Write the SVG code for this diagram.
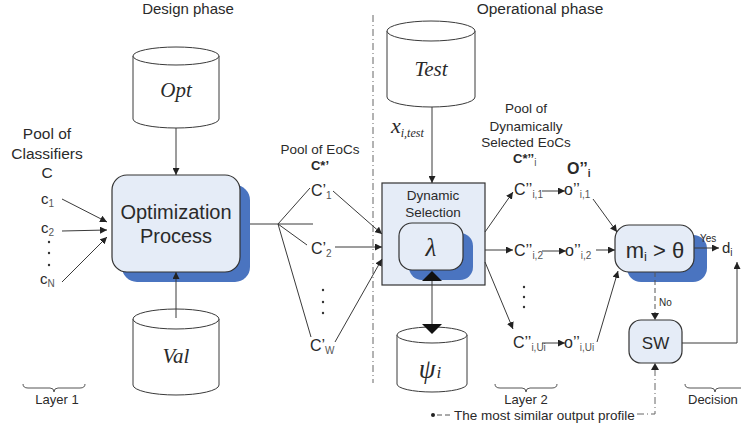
<svg xmlns="http://www.w3.org/2000/svg" width="741" height="428" viewBox="0 0 741 428">
  <defs>
    <marker id="arr" viewBox="0 0 8 8" refX="8" refY="4" markerWidth="7" markerHeight="7" markerUnits="userSpaceOnUse" orient="auto">
      <path d="M0,0 L8,4 L0,8 Z" fill="#222"/>
    </marker>
    <style>
      text { font-family: "Liberation Sans", Arial, sans-serif; fill: #2a2a2a; }
      .serif { font-family: "Liberation Serif", "Times New Roman", serif; font-style: italic; }
      .ln { stroke: #3a3a3a; stroke-width: 1; fill: none; }
      .arrow { stroke: #3a3a3a; stroke-width: 1; fill: none; marker-end: url(#arr); }
      .dash { stroke: #555; stroke-width: 1; fill: none; stroke-dasharray: 5 3; }
      .dashdot { stroke: #666; stroke-width: 1; fill: none; stroke-dasharray: 7 3 1 3; }
      .cyl { fill: #fff; stroke: #3a3a3a; stroke-width: 1; }
      .box { fill: #e5ecf7; stroke: #333; stroke-width: 1.2; }
      .shadow { fill: #4a74c0; }
      .brace { stroke: #555; stroke-width: 1; fill: none; }
      .sub { font-size: 10px; fill: #555; }
    </style>
  </defs>

  <!-- phase titles and separator -->
  <text x="188" y="14" font-size="15" text-anchor="middle">Design phase</text>
  <text x="540" y="14" font-size="15.5" text-anchor="middle">Operational phase</text>
  <line class="dashdot" x1="373" y1="15" x2="373" y2="383"/>

  <!-- data stores -->
  <g id="opt">
    <path class="cyl" d="M133,56 V119 A43,9 0 0 0 219,119 V56"/>
    <ellipse class="cyl" cx="176" cy="56" rx="43" ry="9"/>
    <text class="serif" x="176" y="97" font-size="21" text-anchor="middle">Opt</text>
  </g>
  <g id="val">
    <path class="cyl" d="M133,319 V385 A43,10 0 0 0 219,385 V319"/>
    <ellipse class="cyl" cx="176" cy="319" rx="43" ry="10"/>
    <text class="serif" x="176" y="363" font-size="21" text-anchor="middle">Val</text>
  </g>
  <g id="test">
    <path class="cyl" d="M387,31 V97 A44,10 0 0 0 475,97 V31"/>
    <ellipse class="cyl" cx="431" cy="31" rx="44" ry="10"/>
    <text class="serif" x="431" y="76" font-size="21" text-anchor="middle">Test</text>
  </g>
  <g id="psi">
    <path class="cyl" d="M397,335 V384 A35,8 0 0 0 467,384 V335"/>
    <ellipse class="cyl" cx="432" cy="335" rx="35" ry="8"/>
    <text class="serif" x="430" y="378" font-size="27" text-anchor="middle">ψ<tspan font-size="17" dx="1">i</tspan></text>
  </g>

  <!-- pool of classifiers -->
  <g id="pool-classifiers">
    <text x="47" y="139" font-size="15.5" text-anchor="middle">Pool of</text>
    <text x="47" y="159" font-size="15.5" text-anchor="middle">Classifiers</text>
    <text x="47" y="178" font-size="15.5" text-anchor="middle">C</text>
    <text x="41" y="204" font-size="15">c<tspan class="sub" font-size="10" dy="3">1</tspan></text>
    <text x="41" y="233" font-size="15">c<tspan class="sub" font-size="10" dy="3">2</tspan></text>
    <circle cx="49" cy="242" r="1.2" fill="#333"/>
    <circle cx="49" cy="253" r="1.2" fill="#333"/>
    <circle cx="49" cy="265" r="1.2" fill="#333"/>
    <text x="40" y="284" font-size="15">c<tspan class="sub" font-size="10" dy="3">N</tspan></text>
  </g>

  <!-- optimization process -->
  <g id="optimization">
    <rect class="shadow" x="122" y="185" width="128" height="97" rx="15"/>
    <rect class="box" x="112" y="175" width="128" height="97" rx="15"/>
    <text x="176" y="219" font-size="20" text-anchor="middle">Optimization</text>
    <text x="176" y="243" font-size="20" text-anchor="middle">Process</text>
  </g>

  <!-- pool of EoCs -->
  <g id="pool-eocs">
    <text x="320" y="154" font-size="13.5" text-anchor="middle">Pool of EoCs</text>
    <text x="320" y="170" font-size="13" font-weight="bold" text-anchor="middle">C*’</text>
    <text x="311" y="196" font-size="16">C’<tspan class="sub" font-size="11" dy="3">1</tspan></text>
    <text x="311" y="254" font-size="16">C’<tspan class="sub" font-size="11" dy="3">2</tspan></text>
    <circle cx="323" cy="290" r="1.2" fill="#333"/>
    <circle cx="323" cy="302" r="1.2" fill="#333"/>
    <circle cx="323" cy="313" r="1.2" fill="#333"/>
    <text x="310" y="351" font-size="16">C’<tspan class="sub" font-size="11" dy="3">W</tspan></text>
  </g>

  <!-- dynamic selection -->
  <g id="dynamic-selection">
    <rect class="box" x="382" y="183" width="103" height="102" rx="0" stroke-width="1.3"/>
    <text x="433" y="200" font-size="13.5" text-anchor="middle">Dynamic</text>
    <text x="433" y="217" font-size="13.5" text-anchor="middle">Selection</text>
    <rect class="shadow" x="409" y="233" width="64" height="47" rx="13"/>
    <rect class="box" x="399" y="223" width="64" height="47" rx="13"/>
    <text class="serif" x="431" y="256" font-size="25" text-anchor="middle">λ</text>
  </g>

  <!-- pool of dynamically selected EoCs -->
  <g id="pool-selected">
    <text x="526" y="113" font-size="13.5" text-anchor="middle">Pool of</text>
    <text x="526" y="131" font-size="13.5" text-anchor="middle">Dynamically</text>
    <text x="526" y="147" font-size="13.5" text-anchor="middle">Selected EoCs</text>
    <text x="513" y="163" font-size="13" font-weight="bold">C*’’<tspan font-weight="normal" class="sub" font-size="9" dy="3">i</tspan></text>
    <text x="567" y="174" font-size="16" font-weight="bold">O’’<tspan font-size="10" dy="3">i</tspan></text>
    <text x="514" y="195" font-size="16">C’’<tspan class="sub" font-size="10.5" dy="3">i,1</tspan></text>
    <text x="514" y="256" font-size="16">C’’<tspan class="sub" font-size="10.5" dy="3">i,2</tspan></text>
    <circle cx="524" cy="287" r="1.2" fill="#333"/>
    <circle cx="524" cy="297" r="1.2" fill="#333"/>
    <circle cx="524" cy="307" r="1.2" fill="#333"/>
    <text x="513" y="348" font-size="16">C’’<tspan class="sub" font-size="10.5" dy="3">i,Ui</tspan></text>
    <text x="564" y="195" font-size="16">o’’<tspan class="sub" font-size="10.5" dy="3">i,1</tspan></text>
    <text x="565" y="256" font-size="16">o’’<tspan class="sub" font-size="10.5" dy="3">i,2</tspan></text>
    <text x="564" y="348" font-size="16">o’’<tspan class="sub" font-size="10.5" dy="3">i,Ui</tspan></text>
  </g>

  <!-- decision nodes -->
  <g id="threshold">
    <rect class="shadow" x="627" y="235" width="80" height="47" rx="14"/>
    <rect class="box" x="615" y="225" width="79" height="47" rx="14"/>
    <text x="655" y="258" font-size="22" text-anchor="middle">m<tspan font-size="13" dy="3">i</tspan><tspan dy="-3"> &gt; θ</tspan></text>
  </g>
  <g id="sw">
    <rect class="box" x="629" y="320" width="53" height="43" rx="12"/>
    <text x="655.5" y="349" font-size="17" text-anchor="middle">SW</text>
  </g>
  <g id="decision-output">
    <text x="722" y="253" font-size="15">d<tspan font-size="10" dy="3">i</tspan></text>
    <text x="700" y="242" font-size="10">Yes</text>
    <text x="659" y="306" font-size="10">No</text>
  </g>

  <!-- connectors -->
  <g id="connectors">
    <line class="arrow" x1="176" y1="128" x2="176" y2="175"/>
    <line class="arrow" x1="176" y1="318" x2="176" y2="272"/>
    <line class="arrow" x1="62" y1="199" x2="107" y2="222"/>
    <line class="arrow" x1="62" y1="231" x2="107" y2="230"/>
    <line class="arrow" x1="62" y1="282" x2="107" y2="237"/>

    <line class="ln" x1="250" y1="224" x2="313" y2="224"/>
    <line class="ln" x1="278" y1="224" x2="310" y2="188"/>
    <line class="ln" x1="278" y1="224" x2="307" y2="245"/>
    <line class="ln" x1="278" y1="224" x2="311" y2="337"/>
    <line class="arrow" x1="333" y1="191" x2="382" y2="234"/>
    <line class="arrow" x1="335" y1="247" x2="382" y2="247"/>
    <line class="arrow" x1="335" y1="342" x2="382" y2="259"/>

    <line class="arrow" x1="432" y1="107" x2="432" y2="183"/>
    <text class="serif" x="391" y="133" font-size="22">x<tspan font-size="12" dy="4">i,test</tspan></text>

    <line class="ln" x1="432" y1="278" x2="432" y2="327" stroke-width="1.2"/>
    <path d="M432,271 L442,281 L422,281 Z" fill="#111"/>
    <path d="M432,334 L442,324 L422,324 Z" fill="#111"/>

    <line class="arrow" x1="485" y1="232" x2="513" y2="192"/>
    <line class="arrow" x1="485" y1="250" x2="513" y2="250"/>
    <line class="arrow" x1="485" y1="262" x2="513" y2="329"/>
    <line class="arrow" x1="542" y1="191" x2="565" y2="191"/>
    <line class="arrow" x1="542" y1="251" x2="566" y2="251"/>
    <line class="arrow" x1="542" y1="343" x2="565" y2="343"/>
    <line class="arrow" x1="593" y1="199" x2="617" y2="232"/>
    <line class="arrow" x1="596" y1="250" x2="615" y2="250"/>
    <line class="arrow" x1="597" y1="342" x2="618" y2="271"/>

    <line class="arrow" x1="694" y1="248" x2="719" y2="248"/>
    <line class="dash" x1="655" y1="272" x2="655" y2="314"/>
    <path d="M651,313 L655,320 L659,313 Z" fill="#222"/>
    <polyline class="arrow" points="682,343 737,343 737,262"/>

    <polyline class="dashdot" points="637,414 655,414 655,370"/>
    <path d="M651,370 L655,363 L659,370 Z" fill="#222"/>
    <circle cx="433" cy="415" r="2" fill="#222"/>
    <line class="dash" x1="437" y1="415" x2="452" y2="415"/>
    <text x="454" y="420" font-size="13.5">The most similar output profile</text>
  </g>

  <!-- layer braces -->
  <g id="layers">
    <path class="brace" d="M23,384 Q23,388 28,388 L50,388 Q54,388 54,392 Q54,388 58,388 L80,388 Q85,388 85,384"/>
    <text x="57" y="404" font-size="13" text-anchor="middle">Layer 1</text>
    <path class="brace" d="M495,384 Q495,388 500,388 L522,388 Q526,388 526,392 Q526,388 530,388 L552,388 Q557,388 557,384"/>
    <text x="526" y="404" font-size="13" text-anchor="middle">Layer 2</text>
    <path class="brace" d="M685,384 Q685,388 690,388 L711,388 Q715,388 715,392 Q715,388 719,388 L741,388"/>
    <text x="688" y="404" font-size="13">Decision</text>
  </g>
</svg>
